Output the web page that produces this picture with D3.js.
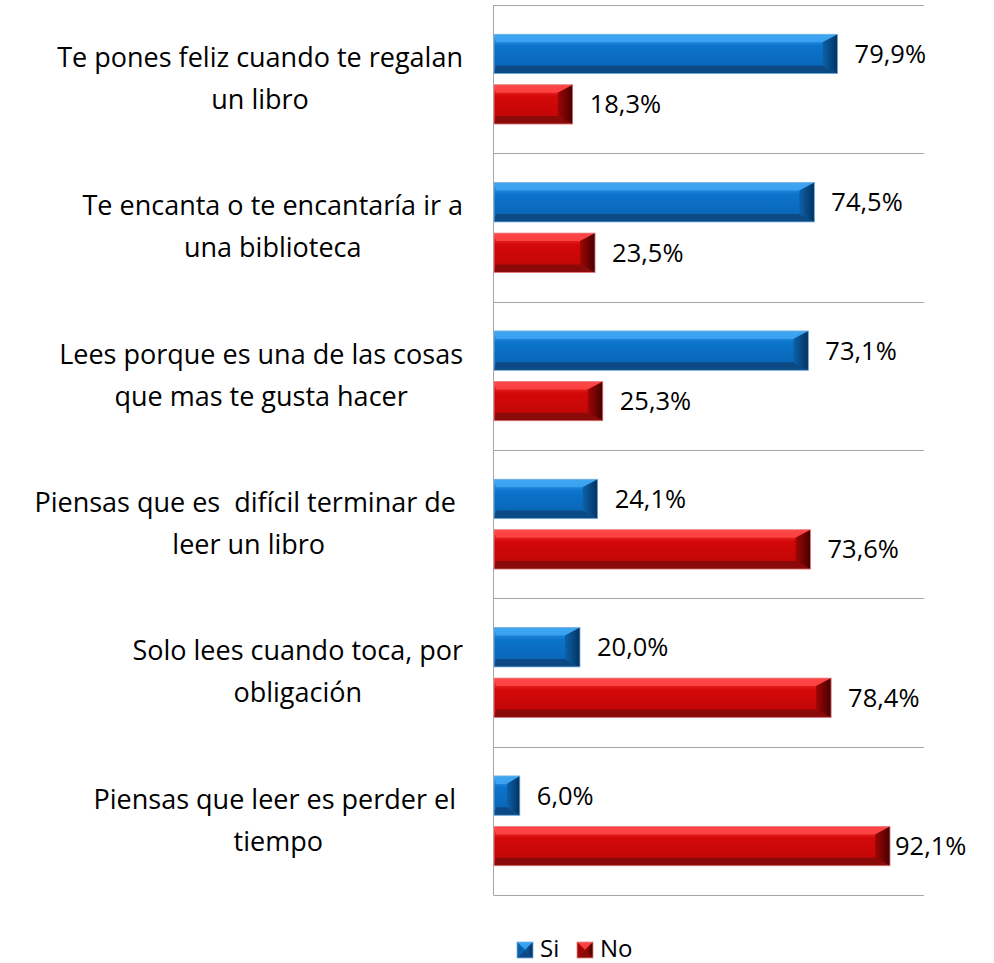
<!DOCTYPE html>
<html>
<head>
<meta charset="utf-8">
<script src="https://cdn.jsdelivr.net/npm/d3@7"></script>
<style>
  body { margin: 0; background: #fff; }
  text { font-family: "Open Sans", sans-serif; fill: #000; }
</style>
</head>
<body>
<div id="chart-area"></div>
<script>
// data
let labelLines = [
  ["Te pones feliz cuando te regalan", "un libro"],
  ["Te encanta o te encantaría ir a", "una biblioteca"],
  ["Lees porque es una de las cosas", "que mas te gusta hacer"],
  ["Piensas que es  difícil terminar de ", "leer un libro"],
  ["Solo lees cuando toca, por", "obligación"],
  ["Piensas que leer es perder el ", "tiempo"]
];
let categories = labelLines.map(l => l.join(" "));
let series = ["Si", "No"];
let siValues = [79.9, 74.5, 73.1, 24.1, 20.0, 6.0];
let noValues = [18.3, 23.5, 25.3, 73.6, 78.4, 92.1];

let width = 994, height = 963;
let labelSize = 27, valueSize = 25.5, legendSize = 24;

let svg = d3.select("#chart-area")
  .append("svg")
  .attr("width", width)
  .attr("height", height);

// colours for the bevelled bars
let palette = {
  Si: { top: "#3ea6f2", mid: "#0b74cc", low: "#0a62b0", bottom: "#0b4a85", end: "#03325f", endLight: "#0c62aa" },
  No: { top: "#ff4646", mid: "#d40808", low: "#bd0606", bottom: "#8a0a0a", end: "#460000", endLight: "#a00606" }
};

let defs = svg.append("defs");
series.forEach(s => {
  let p = palette[s];
  let g = defs.append("linearGradient").attr("id", "grad-" + s)
    .attr("x1", 0).attr("y1", 0).attr("x2", 0).attr("y2", 1);
  g.append("stop").attr("offset", "0%").attr("stop-color", p.top);
  g.append("stop").attr("offset", "30%").attr("stop-color", p.mid);
  g.append("stop").attr("offset", "100%").attr("stop-color", p.low);
  let e = defs.append("linearGradient").attr("id", "end-" + s)
    .attr("x1", 0).attr("y1", 0).attr("x2", 1).attr("y2", 0);
  e.append("stop").attr("offset", "0%").attr("stop-color", p.endLight);
  e.append("stop").attr("offset", "100%").attr("stop-color", p.end);
});

let x = d3.scaleLinear()
  .domain([0, 100])
  .range([494, 924]);

let y = d3.scaleBand()
  .domain(categories)
  .range([5, 895]);

let ySub = d3.scaleBand()
  .domain(series)
  .range([0, y.bandwidth()])
  .paddingInner(0.22)
  .paddingOuter(0.58);

// gridlines between the categories
let bounds = categories.map(c => y(c)).concat([y.range()[1]]);
svg.append("g")
  .selectAll("line")
  .data(bounds)
  .enter()
  .append("line")
  .attr("x1", x(0))
  .attr("x2", x(100))
  .attr("y1", d => Math.round(d) + 0.5)
  .attr("y2", d => Math.round(d) + 0.5)
  .attr("stroke", "#a6a6a6")
  .attr("stroke-width", 1);

// vertical axis line
svg.append("line")
  .attr("x1", x(0) - 0.5)
  .attr("x2", x(0) - 0.5)
  .attr("y1", y.range()[0])
  .attr("y2", y.range()[1] + 0.5)
  .attr("stroke", "#a6a6a6");

function bevelBar(g, s, x0, x1, y0, h, full) {
  let p = palette[s];
  let w = x1 - x0;
  let bw = Math.min(15, w / 2);
  let bh = Math.min(8, h / 2);
  let lw = full ? bw : 2;
  let y1 = y0 + h;
  g.append("rect")
    .attr("x", x0).attr("y", y0)
    .attr("width", w).attr("height", h)
    .attr("fill", "url(#grad-" + s + ")");
  // top edge
  g.append("polygon")
    .attr("points", [[x0, y0], [x1, y0], [x1 - bw, y0 + bh], [x0 + lw, y0 + bh]].join(" "))
    .attr("fill", p.top).attr("opacity", 0.85);
  // bottom edge
  g.append("polygon")
    .attr("points", [[x0, y1], [x1, y1], [x1 - bw, y1 - bh], [x0 + lw, y1 - bh]].join(" "))
    .attr("fill", p.bottom);
  if (full) {
    g.append("polygon")
      .attr("points", [[x0, y0], [x0, y1], [x0 + lw, y1 - bh], [x0 + lw, y0 + bh]].join(" "))
      .attr("fill", p.endLight);
  }
  // right end
  g.append("polygon")
    .attr("points", [[x1, y0], [x1, y1], [x1 - bw, y1 - bh], [x1 - bw, y0 + bh]].join(" "))
    .attr("fill", "url(#end-" + s + ")");
  g.append("rect")
    .attr("x", x0).attr("y", y0)
    .attr("width", w).attr("height", h)
    .attr("fill", "none")
    .attr("stroke", s == "Si" ? "#7fb2de" : "#e48a8a")
    .attr("stroke-width", 0.8);
}

let rows = categories.map((c, i) => ({ cat: c, lines: labelLines[i], Si: siValues[i], No: noValues[i] }));

let groups = svg.selectAll("g.row")
  .data(rows)
  .enter()
  .append("g")
  .attr("class", "row")
  .attr("transform", d => "translate(0," + y(d.cat) + ")");

groups.each(function(d) {
  let g = d3.select(this);
  series.forEach(s => {
    let by = ySub(s);
    let bh = ySub.bandwidth();
    bevelBar(g, s, x(0), x(d[s]), by, bh, false);
    g.append("text")
      .attr("x", Math.min(x(d[s]) + 17, 895))
      .attr("y", by + bh / 2 + 9)
      .attr("font-size", valueSize + "px")
      .text(d3.format(".1f")(d[s]).replace(".", ",") + "%");
  });

  // category label, lines centred within a right-aligned block
  let lab = g.append("g");
  let texts = d.lines.map((line, j) => lab.append("text")
    .attr("font-size", labelSize + "px")
    .attr("text-anchor", "middle")
    .style("white-space", "pre")
    .attr("y", y.bandwidth() / 2 + (j - (d.lines.length - 1) / 2) * 42 + 9)
    .text(line));
  let blockW = d3.max(texts, t => t.node().getComputedTextLength());
  texts.forEach(t => t.attr("x", 463 - blockW / 2));
});

// legend
let legend = svg.append("g").attr("transform", "translate(517,942)");
let legendX = [0, 60];
series.forEach((s, i) => {
  let lg = legend.append("g").attr("transform", "translate(" + legendX[i] + ",0)");
  bevelBar(lg, s, 0, 16, 0, 16, true);
  lg.append("text")
    .attr("x", 23)
    .attr("y", 15)
    .attr("font-size", legendSize + "px")
    .text(s);
});
</script>
</body>
</html>
